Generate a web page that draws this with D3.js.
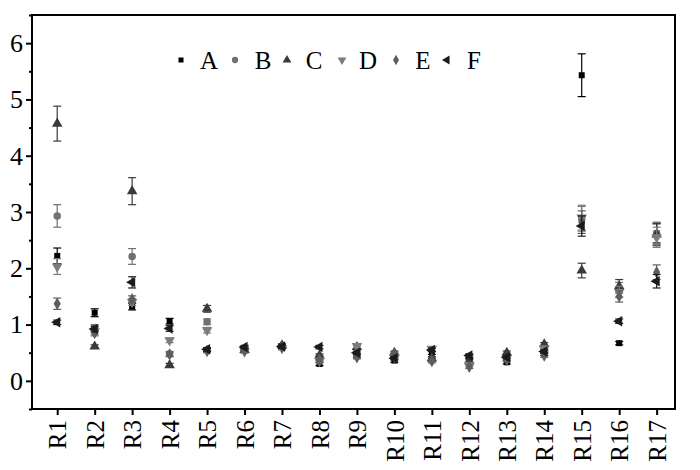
<!DOCTYPE html>
<html><head><meta charset="utf-8">
<script src="https://cdn.jsdelivr.net/npm/d3@7/dist/d3.min.js"></script>
<style>
body{margin:0;background:#fff;}
svg{display:block;}
svg text{font-family:"Liberation Serif","Times New Roman",serif;}
</style></head>
<body><svg id="c" width="700" height="470"></svg>
<script>
const categories = ["R1","R2","R3","R4","R5","R6","R7","R8","R9","R10","R11","R12","R13","R14","R15","R16","R17"];
const seriesNames = ["A","B","C","D","E","F"];
const valuesA = [2.22,1.21,1.32,1.06,0.55,0.57,0.60,0.30,0.45,0.36,0.50,0.43,0.33,0.48,5.43,0.67,2.62];
const valuesB = [2.93,0.95,2.21,0.48,1.05,0.58,0.62,0.42,0.47,0.45,0.38,0.32,0.45,0.55,2.88,1.62,2.62];
const valuesC = [4.57,0.61,3.37,0.28,1.28,0.55,0.63,0.45,0.60,0.50,0.40,0.35,0.50,0.65,1.96,1.68,2.60];
const valuesD = [2.03,0.88,1.40,0.72,0.90,0.52,0.58,0.35,0.62,0.42,0.57,0.28,0.40,0.58,2.90,1.58,2.55];
const valuesE = [1.37,0.85,1.45,0.47,0.53,0.55,0.60,0.38,0.42,0.48,0.35,0.25,0.37,0.45,2.82,1.50,1.93];
const valuesF = [1.04,0.92,1.75,0.93,0.56,0.60,0.61,0.60,0.50,0.40,0.55,0.45,0.42,0.52,2.75,1.06,1.77];
const errA = [0.14,0.07,0.06,0.05,0.03,0.03,0.03,0.03,0.03,0.03,0.03,0.03,0.03,0.03,0.38,0.03,0.17];
const errB = [0.20,0.05,0.14,0.04,0.05,0.03,0.03,0.03,0.03,0.03,0.03,0.03,0.03,0.03,0.22,0.13,0.20];
const errC = [0.31,0.03,0.24,0.03,0.06,0.03,0.03,0.03,0.03,0.03,0.03,0.03,0.03,0.03,0.13,0.12,0.20];
const errD = [0.14,0.05,0.06,0.04,0.05,0.03,0.03,0.03,0.03,0.03,0.03,0.03,0.03,0.03,0.22,0.10,0.18];
const errE = [0.10,0.05,0.06,0.04,0.03,0.03,0.03,0.03,0.03,0.03,0.03,0.03,0.03,0.03,0.20,0.10,0.13];
const errF = [0.04,0.05,0.10,0.05,0.03,0.03,0.03,0.03,0.03,0.03,0.03,0.03,0.03,0.03,0.18,0.04,0.12];
const yTicks = [0,1,2,3,4,5,6];

const allValues = [valuesA,valuesB,valuesC,valuesD,valuesE,valuesF];
const allErr = [errA,errB,errC,errD,errE,errF];
const colors = ["#000000","#707070","#3a3a3a","#7c7c7c","#5e5e5e","#1c1c1c"];
const symbols = [d3.symbolSquare,d3.symbolCircle,d3.symbolTriangle,d3.symbolTriangle,d3.symbolDiamond,d3.symbolTriangle];
const rotations = [0,0,0,180,0,-90];
const sizes = [36,44,48,48,44,48];

const L=32,R=675,T=15,B=409;
const svg = d3.select("#c");
const x = d3.scaleLinear().domain([0.327,17.49]).range([L,R]);
const y = d3.scaleLinear().domain([-0.5,6.5]).range([B,T]);

svg.append("rect").attr("x",L).attr("y",T).attr("width",R-L).attr("height",B-T)
  .attr("fill","none").attr("stroke","#000").attr("stroke-width",2);

const yAxis = d3.axisLeft(y).tickValues(yTicks).tickSize(6).tickPadding(3).tickFormat(d3.format("d"));
const gy = svg.append("g").attr("transform",`translate(${L},0)`).call(yAxis);
gy.attr("font-size",null).attr("font-family",null);
gy.select(".domain").remove();
gy.selectAll(".tick line").attr("stroke-width",2);
gy.selectAll(".tick text").style("font-size","26px").attr("fill","#000");
const yMinor = d3.axisLeft(y).tickValues(d3.range(-0.5,6.51,1)).tickSize(3).tickFormat("");
const gym = svg.append("g").attr("transform",`translate(${L},0)`).call(yMinor);
gym.select(".domain").remove();
gym.selectAll(".tick line").attr("stroke-width",2);

const xAxis = d3.axisBottom(x).tickValues(d3.range(1,18)).tickSize(6).tickPadding(4).tickFormat(i=>categories[i-1]);
const gx = svg.append("g").attr("transform",`translate(0,${B})`).call(xAxis);
gx.attr("font-size",null).attr("font-family",null);
gx.select(".domain").remove();
gx.selectAll(".tick line").attr("stroke-width",2);
gx.selectAll(".tick text").style("font-size","25px").attr("fill","#000")
  .attr("text-anchor","end").attr("dy","0.35em").attr("transform","translate(0,11) rotate(-90)").attr("x",0).attr("y",0);

const plot = svg.append("g");
allValues.forEach((vals,s)=>{
  const g = plot.append("g");
  vals.forEach((v,i)=>{
    const e = allErr[s][i];
    const cx = x(i+1);
    g.append("line").attr("x1",cx).attr("x2",cx).attr("y1",y(v-e)).attr("y2",y(v+e)).attr("stroke",colors[s]).attr("stroke-width",1.2);
    [v-e,v+e].forEach(w=>g.append("line").attr("x1",cx-4).attr("x2",cx+4).attr("y1",y(w)).attr("y2",y(w)).attr("stroke",colors[s]).attr("stroke-width",1.2));
    g.append("path").attr("d",d3.symbol().type(symbols[s]).size(sizes[s])())
      .attr("transform",`translate(${cx},${y(v)}) rotate(${rotations[s]})`).attr("fill",colors[s]);
  });
});

const legX = [181,235,287,342,396,447];
const legTX = [209,263,314,368,423,474];
const leg = svg.append("g");
seriesNames.forEach((n,s)=>{
  leg.append("path").attr("d",d3.symbol().type(symbols[s]).size(sizes[s]*0.7)())
    .attr("transform",`translate(${legX[s]},60) rotate(${rotations[s]})`).attr("fill",colors[s]);
  leg.append("text").attr("x",legTX[s]).attr("y",60).attr("dy","0.35em").attr("text-anchor","middle")
    .style("font-size","25px").attr("fill","#000").text(n);
});
</script></body></html>
